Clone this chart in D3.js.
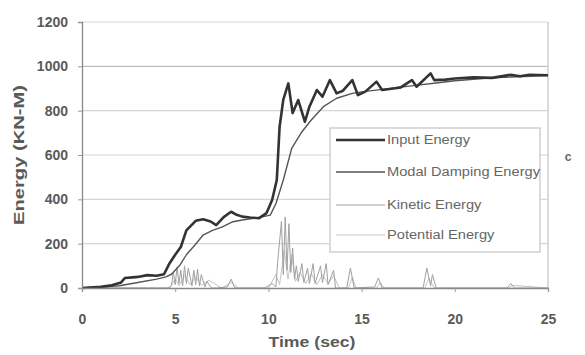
<!DOCTYPE html>
<html>
<head>
<meta charset="utf-8">
<script src="https://cdn.jsdelivr.net/npm/d3@7"></script>
<style>
  body { margin: 0; background: #fff; }
  svg { display: block; font-family: "Liberation Sans", Arial, sans-serif; }
  .tick text { fill: #5a5a5a; font-size: 14px; font-weight: bold; }
  .axis-title { fill: #5a5a5a; font-size: 14px; font-weight: bold; }
  .legend text { fill: #666; font-size: 12px; }
</style>
</head>
<body>
<svg id="chart" width="585" height="355"></svg>
<script>
// values
const xTicks = [0, 5, 10, 15, 20, 25];
const yTicks = [0, 200, 400, 600, 800, 1000, 1200];

const inputT = [0, 1, 1.6, 2.1, 2.3, 2.7, 3, 3.5, 4, 4.4, 4.7, 5, 5.3, 5.6, 6.1, 6.5, 6.9, 7.2, 7.6, 8.0, 8.3, 8.6, 9.0, 9.5, 9.9, 10.2, 10.45, 10.6, 10.8, 11.07, 11.3, 11.6, 11.96, 12.2, 12.6, 12.9, 13.3, 13.66, 14.0, 14.5, 14.8, 15.2, 15.8, 16.1, 16.7, 17.1, 17.7, 17.95, 18.7, 18.9, 19.5, 20, 21, 22, 23, 23.5, 24, 25];
const inputE = [0, 5, 12, 25, 45, 48, 50, 58, 55, 62, 112, 150, 185, 260, 303, 310, 300, 284, 320, 344, 330, 322, 318, 315, 338, 397, 487, 727, 850, 923, 789, 848, 750, 818, 893, 863, 938, 878, 890, 938, 870, 886, 931, 893, 900, 905, 938, 908, 968, 938, 940, 945, 950, 948, 962, 955, 962, 960];

const dampT = [0, 2, 3, 4, 4.5, 4.8, 5.26, 5.6, 6.06, 6.5, 7.0, 7.5, 8.1, 8.6, 9.2, 9.6, 10.1, 10.4, 10.8, 11.25, 11.8, 12.3, 12.95, 13.66, 14.5, 15, 16, 17, 18, 19, 20, 21, 22, 23, 24, 25];
const dampE = [0, 10, 25, 40, 50, 62, 104, 150, 194, 239, 260, 275, 299, 307, 314, 320, 329, 380, 487, 630, 705, 758, 818, 856, 878, 885, 895, 905, 915, 925, 935, 942, 948, 952, 955, 958];

const kinT = [0, 4.6, 4.8, 4.9, 5.0, 5.1, 5.2, 5.3, 5.4, 5.5, 5.6, 5.7, 5.9, 6.0, 6.1, 6.2, 6.3, 6.4, 6.6, 6.7, 6.9, 7.0, 7.2, 7.8, 8.0, 8.2, 9.8, 10.2, 10.4, 10.5, 10.7, 10.8, 10.9, 11.0, 11.1, 11.2, 11.3, 11.4, 11.5, 11.6, 11.8, 11.9, 12.1, 12.2, 12.4, 12.5, 12.8, 12.9, 13.1, 13.2, 13.5, 13.6, 14.2, 14.4, 14.6, 15.7, 15.9, 16.1, 18.3, 18.5, 18.7, 18.8, 19.0, 22.8, 23.0, 23.2, 25];
const kinE = [0, 0, 10, 70, 15, 95, 20, 80, 10, 100, 20, 90, 10, 80, 15, 85, 10, 60, 5, 30, 5, 0, 0, 5, 40, 0, 0, 20, 5, 120, 300, 60, 320, 80, 290, 70, 180, 40, 100, 30, 110, 25, 90, 20, 110, 20, 100, 25, 110, 15, 80, 0, 0, 90, 0, 5, 45, 0, 0, 90, 10, 60, 0, 0, 20, 0, 0];

const potT = [0, 4.7, 5.0, 5.2, 5.5, 5.8, 6.1, 6.4, 6.8, 7.5, 8.0, 8.4, 10.0, 10.4, 10.6, 10.85, 11.05, 11.25, 11.45, 11.7, 12.0, 12.3, 12.6, 12.9, 13.2, 13.5, 13.8, 14.3, 14.5, 14.7, 15.8, 16.0, 16.2, 18.4, 18.6, 18.9, 22.9, 23.1, 25];
const potE = [0, 0, 40, 10, 55, 15, 50, 12, 35, 0, 25, 0, 0, 60, 15, 170, 40, 150, 30, 70, 20, 65, 15, 60, 20, 55, 0, 0, 50, 0, 0, 25, 0, 0, 45, 0, 0, 12, 0];

const series = [
  { name: 'Input Energy', t: inputT, e: inputE, color: '#333', width: 2.6 },
  { name: 'Modal Damping Energy', t: dampT, e: dampE, color: '#555', width: 1.4 },
  { name: 'Kinetic Energy', t: kinT, e: kinE, color: '#a0a0a0', width: 1 },
  { name: 'Potential Energy', t: potT, e: potE, color: '#c4c4c4', width: 1 },
];

const svg = d3.select('#chart');
const margin = { left: 82, right: 37, top: 22, bottom: 67 };
const width = 585 - margin.left - margin.right;
const height = 355 - margin.top - margin.bottom;

const g = svg.append('g').attr('transform', `translate(${margin.left},${margin.top})`);

const x = d3.scaleLinear().domain([0, 25]).range([0, width]);
const y = d3.scaleLinear().domain([0, 1200]).range([height, 0]);

// gridlines
g.append('g')
  .selectAll('line')
  .data(yTicks.filter(v => v > 0))
  .join('line')
  .attr('x1', 0).attr('x2', width)
  .attr('y1', d => y(d)).attr('y2', d => y(d))
  .attr('stroke', d => d === 1000 ? '#bdbdbd' : '#d6d6d6')
  .attr('stroke-width', 1.2);

// plot frame (right side)
g.append('line')
  .attr('x1', width).attr('x2', width)
  .attr('y1', 0).attr('y2', height)
  .attr('stroke', '#cfcfcf').attr('stroke-width', 1.5);

const line = d3.line()
  .x(d => x(d[0]))
  .y(d => y(d[1]));

// draw lighter series first
series.slice().reverse().forEach(s => {
  g.append('path')
    .datum(d3.zip(s.t, s.e))
    .attr('fill', 'none')
    .attr('stroke', s.color)
    .attr('stroke-width', s.width)
    .attr('stroke-linejoin', 'round')
    .attr('d', line);
});

// axes
g.append('g')
  .call(d3.axisLeft(y).tickValues(yTicks).tickFormat(d3.format('d')).tickSize(4).tickPadding(10))
  .call(a => a.select('.domain').attr('stroke', '#888').attr('stroke-width', 1.3))
  .call(a => a.selectAll('.tick line').attr('stroke', '#999'));

g.append('g')
  .attr('transform', `translate(0,${height})`)
  .call(d3.axisBottom(x).tickValues(xTicks).tickFormat(d3.format('d')).tickSize(4).tickPadding(22))
  .call(a => a.select('.domain').attr('stroke', '#888').attr('stroke-width', 1.3))
  .call(a => a.selectAll('.tick line').attr('stroke', '#999'));

// axis titles (the scan is stretched, so the text is too)
svg.append('text')
  .attr('class', 'axis-title')
  .attr('transform', 'translate(24,155) rotate(-90)')
  .attr('text-anchor', 'middle')
  .attr('textLength', 140)
  .attr('lengthAdjust', 'spacingAndGlyphs')
  .text('Energy (KN-M)');

svg.append('text')
  .attr('class', 'axis-title')
  .attr('x', 312).attr('y', 347)
  .attr('text-anchor', 'middle')
  .attr('textLength', 87)
  .attr('lengthAdjust', 'spacingAndGlyphs')
  .text('Time (sec)');

// legend
const lg = svg.append('g').attr('class', 'legend').attr('transform', 'translate(330,128)');
lg.append('rect')
  .attr('width', 210).attr('height', 124)
  .attr('fill', '#fff')
  .attr('stroke', '#cfcfcf').attr('stroke-width', 1.5);

const rows = [12, 44, 77, 107];
series.forEach((s, i) => {
  lg.append('line')
    .attr('x1', 6).attr('x2', 55)
    .attr('y1', rows[i]).attr('y2', rows[i])
    .attr('stroke', s.color)
    .attr('stroke-width', s.width);
  const t = lg.append('text')
    .attr('x', 57).attr('y', rows[i] + 4)
    .text(s.name);
  t.attr('textLength', t.node().getComputedTextLength() * 1.22)
    .attr('lengthAdjust', 'spacingAndGlyphs');
});

svg.append('text')
  .attr('x', 568).attr('y', 161)
  .attr('fill', '#666')
  .attr('font-size', 12)
  .attr('font-weight', 'bold')
  .attr('text-anchor', 'middle')
  .text('c');
</script>
</body>
</html>
